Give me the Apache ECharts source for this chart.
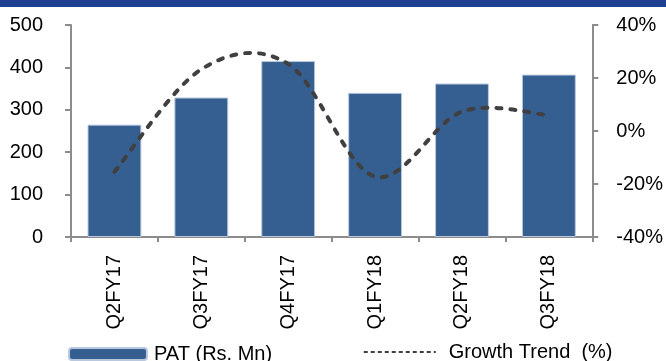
<!DOCTYPE html>
<html>
<head>
<meta charset="utf-8">
<script src="https://cdn.jsdelivr.net/npm/echarts@6/dist/echarts.min.js"></script>
<style>
html,body{margin:0;padding:0;background:#fff;}
#c{width:666px;height:361px;}
</style>
</head>
<body>
<div id="c"></div>
<script>
const categories = ['Q2FY17','Q3FY17','Q4FY17','Q1FY18','Q2FY18','Q3FY18'];
const patValues = [265, 329, 415, 340, 362, 383];
const growthValues = [-15.4, 23.3, 25.3, -17.2, 7.3, 6.0];
const leftTicks = {min: 0, max: 500, interval: 100};
const rightTicks = {min: -40, max: 40, interval: 20};
const patName = 'PAT (Rs. Mn)';
const growthName = 'Growth Trend  (%)';

const FONT = 'Liberation Sans, Arial, sans-serif';
const LINE_COLOR = '#404040';

// Excel-style smoothed line (Catmull-Rom -> cubic Bezier) drawn through the axis scales
function renderSmooth(params, api) {
  if (params.dataIndex !== 0) return null;
  const pts = growthValues.map((v, i) => api.coord([i, v]));
  const n = pts.length;
  let d = 'M' + pts[0][0] + ',' + pts[0][1];
  for (let i = 0; i < n - 1; i++) {
    const p0 = pts[Math.max(0, i - 1)], p1 = pts[i], p2 = pts[i + 1], p3 = pts[Math.min(n - 1, i + 2)];
    const c1x = p1[0] + (p2[0] - p0[0]) / 6, c1y = p1[1] + (p2[1] - p0[1]) / 6;
    const c2x = p2[0] - (p3[0] - p1[0]) / 6, c2y = p2[1] - (p3[1] - p1[1]) / 6;
    d += ' C' + c1x + ',' + c1y + ' ' + c2x + ',' + c2y + ' ' + p2[0] + ',' + p2[1];
  }
  return {
    type: 'path',
    shape: {pathData: d},
    style: {fill: null, stroke: LINE_COLOR, lineWidth: 4, lineDash: [5, 9], lineCap: 'round'}
  };
}

const chart = echarts.init(document.getElementById('c'));
chart.setOption({
  animation: false,
  backgroundColor: '#fff',
  graphic: [{type:'rect', shape:{x:0,y:0,width:666,height:7}, style:{fill:'#1f4092'}, silent:true}],
  grid: {left: 71, right: 72, top: 25, bottom: 124},
  legend: [
    {data:[patName], left: 68, top: 344, itemWidth: 78, itemHeight: 12, itemGap: 8,
     textStyle:{fontFamily:FONT, fontSize:20, color:'#000', padding:[0,0,0,2]}, padding:0},
    {data:[{name:growthName, itemStyle:{opacity:0}}], left: 363, top: 342, itemWidth: 72, itemHeight: 14,
     lineStyle:{width:1.5, type:[4,3], color:'#000', cap:'butt', opacity:1},
     textStyle:{fontFamily:FONT, fontSize:20, color:'#000', padding:[0,0,0,8]}, padding:0}
  ],
  xAxis: {
    type: 'category', data: categories,
    axisLine: {lineStyle:{color:'#8c8c8c', width:2}},
    axisTick: {show:true, length:5, lineStyle:{color:'#8c8c8c', width:2}},
    axisLabel: {rotate: 90, margin: 18, fontFamily:FONT, fontSize:20, color:'#000'}
  },
  yAxis: [
    {type:'value', min:leftTicks.min, max:leftTicks.max, interval:leftTicks.interval,
     splitLine:{show:false},
     axisLine:{show:true, lineStyle:{color:'#8c8c8c', width:2}},
     axisTick:{show:true, length:6, lineStyle:{color:'#8c8c8c', width:2}},
     axisLabel:{margin:28, fontFamily:FONT, fontSize:20, color:'#000'}},
    {type:'value', position:'right', min:rightTicks.min, max:rightTicks.max, interval:rightTicks.interval,
     splitLine:{show:false},
     axisLine:{show:true, onZero:false, lineStyle:{color:'#8c8c8c', width:2}},
     axisTick:{show:true, length:6, lineStyle:{color:'#8c8c8c', width:2}},
     axisLabel:{margin:24, fontFamily:FONT, fontSize:20, color:'#000', formatter: v => v + '%'}}
  ],
  series: [
    {name: patName, type:'bar', data: patValues, barCategoryGap:'38%',
     itemStyle:{color:'#365f91', borderColor:'#b9c8dc', borderWidth:1}},
    {name: growthName, type:'line', yAxisIndex:1, data: growthValues,
     symbol:'none', lineStyle:{color:LINE_COLOR, width:4, opacity:0}},
    {name: 'growthCurve', type:'custom', yAxisIndex:1, silent:true,
     data: growthValues.map((v, i) => [i, v]), encode:{x:0, y:1},
     renderItem: renderSmooth, z: 3}
  ]
});
</script>
</body>
</html>
